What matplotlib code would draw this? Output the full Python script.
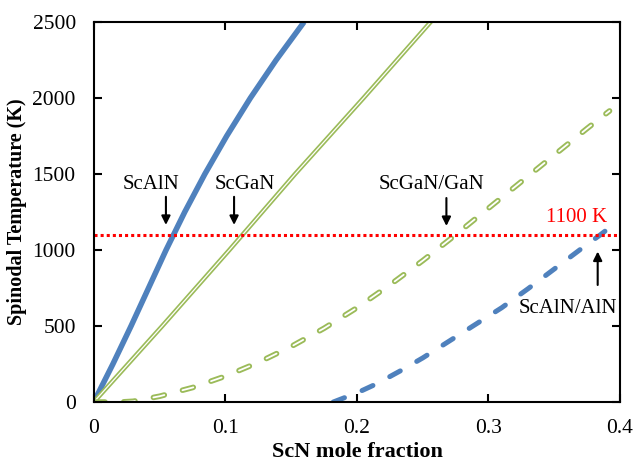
import matplotlib
matplotlib.use("Agg")
import matplotlib.pyplot as plt
import matplotlib.patheffects as pe

# values (x = ScN mole fraction, T in K)
scaln_t = [0, 250, 500, 750, 1000, 1250, 1500, 1750, 2000, 2250, 2500]
scaln_x = [0, 0.0145, 0.0283, 0.0416, 0.0549, 0.0691, 0.0844, 0.1010, 0.1190, 0.1386, 0.1598]

scgan_x = [0, 0.052, 0.103, 0.153, 0.205, 0.256]
scgan_t = [0, 500, 1000, 1500, 2000, 2500]

scgan_gan_x = [0, 0.02, 0.03, 0.05, 0.075, 0.1, 0.125, 0.15, 0.175, 0.2,
               0.225, 0.25, 0.275, 0.3, 0.325, 0.35, 0.375, 0.392]
scgan_gan_t = [0, 0, 5, 38, 95, 170, 260, 365, 485, 620,
               770, 930, 1100, 1275, 1450, 1625, 1800, 1915]

scaln_aln_x = [0.182, 0.2, 0.215, 0.233, 0.25, 0.27, 0.29, 0.31, 0.33, 0.35, 0.37, 0.385, 0.394]
scaln_aln_t = [0, 60, 120, 205, 290, 400, 510, 620, 745, 875, 1005, 1100, 1160]

t_limit = 1100

blue = "#4F81BD"
green = "#9BBB59"

plt.rcParams['font.family'] = ['Liberation Serif', 'DejaVu Serif']

fig = plt.figure(figsize=(6.34, 4.63), dpi=100)
ax = fig.add_axes([0.148, 0.1317, 0.830, 0.8208])

# green curves: white core with a green outline
outline = [pe.Stroke(linewidth=3.3, foreground=green), pe.Normal()]
outline_d = [pe.Stroke(linewidth=4.0, foreground=green), pe.Normal()]

ax.plot(scaln_x, scaln_t, color=blue, lw=4.0, solid_capstyle='butt')
ax.plot(scgan_x, scgan_t, color='white', lw=0.9, path_effects=outline)
ax.plot(scgan_gan_x, scgan_gan_t, color='white', lw=1.3, dashes=(6.2, 10.4),
        dash_capstyle='round', path_effects=outline_d)
ax.plot(scaln_aln_x, scaln_aln_t, color=blue, lw=3.6, dashes=(2.4, 3.8),
        dash_capstyle='round')
ax.axhline(t_limit, color='red', lw=2.2, linestyle=(0, (1, 1)))

ax.set_xlim(0, 0.4)
ax.set_ylim(0, 2500)
ax.set_xticks([0, 0.1, 0.2, 0.3, 0.4])
ax.set_xticklabels(['0', '0.1', '0.2', '0.3', '0.4'])
ax.set_yticks([0, 500, 1000, 1500, 2000, 2500])
ax.tick_params(axis='both', direction='in', length=6, width=1.5, labelsize=15.5,
               top=True, right=True)
ax.tick_params(axis='x', pad=12)
ax.tick_params(axis='y', pad=13)
for s in ax.spines.values():
    s.set_linewidth(1.5)

ax.set_xlabel('ScN mole fraction', fontsize=16, fontweight='bold', labelpad=3)
ax.set_ylabel('Spinodal Temperature (K)', fontsize=14.5, fontweight='bold', labelpad=4)

# labels with arrows
arr = dict(arrowstyle='-|>', color='black', lw=1.5, mutation_scale=13, shrinkA=0, shrinkB=0)
ax.text(0.0438, 1428, 'ScAlN', fontsize=15, ha='center', va='center')
ax.annotate('', xy=(0.0548, 1165), xytext=(0.0548, 1350), arrowprops=arr)
ax.text(0.115, 1428, 'ScGaN', fontsize=15, ha='center', va='center')
ax.annotate('', xy=(0.1066, 1165), xytext=(0.1066, 1350), arrowprops=arr)
ax.text(0.257, 1428, 'ScGaN/GaN', fontsize=15, ha='center', va='center')
ax.annotate('', xy=(0.268, 1158), xytext=(0.268, 1342), arrowprops=arr)
ax.text(0.367, 1217, '1100 K', fontsize=15, color='red', ha='center', va='center')
ax.text(0.3607, 612, 'ScAlN/AlN', fontsize=15, ha='center', va='center')
ax.annotate('', xy=(0.383, 990), xytext=(0.383, 770), arrowprops=arr)

fig.savefig('out.png', dpi=100)
